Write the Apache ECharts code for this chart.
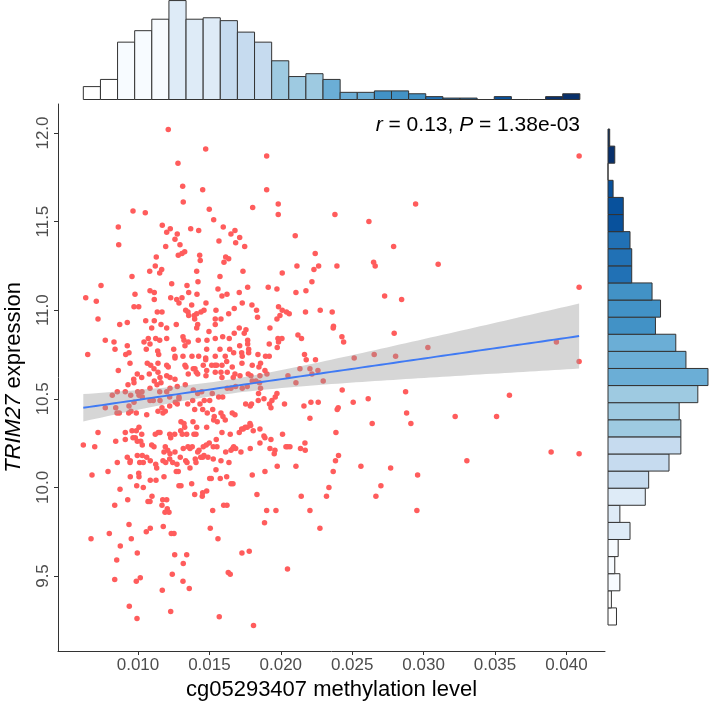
<!DOCTYPE html>
<html>
<head>
<meta charset="utf-8">
<script src="https://cdn.jsdelivr.net/npm/echarts@6/dist/echarts.min.js"></script>
<style>
html,body{margin:0;padding:0;background:#fff;}
#chart{width:709px;height:707px;}
</style>
</head>
<body>
<div id="chart"></div>
<script>
// ---------- DATA ----------
// scatter: [methylation level, TRIM27 expression]
const scatterPoints = [
[0.01212,12.02],[0.01474,11.91],[0.01901,11.87],[0.01280,11.83],[0.01313,11.70],[0.01453,11.68],[0.01901,11.68],[0.01317,11.61],[0.01803,11.58],[0.01982,11.60],[0.01982,11.54],[0.00965,11.56],[0.01051,11.55],[0.01499,11.57],[0.02379,11.54],[0.01530,11.51],[0.01170,11.48],[0.00862,11.47],[0.01597,11.47],[0.01226,11.46],[0.01201,11.44],[0.01369,11.46],[0.01425,11.45],[0.01679,11.45],[0.01651,11.43],[0.01275,11.43],[0.01712,11.41],[0.02101,11.42],[0.01259,11.40],[0.00865,11.37],[0.01294,11.37],[0.01194,11.36],[0.01567,11.39],[0.01684,11.38],[0.01747,11.36],[0.01327,11.33],[0.01308,11.32],[0.01282,11.31],[0.01432,11.31],[0.02241,11.32],[0.01128,11.30],[0.01614,11.30],[0.01635,11.29],[0.01436,11.28],[0.01602,11.27],[0.01121,11.25],[0.02113,11.25],[0.02265,11.25],[0.02393,11.25],[0.01166,11.23],[0.01152,11.21],[0.01082,11.22],[0.01411,11.22],[0.01735,11.22],[0.02010,11.21],[0.02232,11.23],[0.00958,11.19],[0.01574,11.19],[0.02218,11.16],[0.00741,11.14],[0.01236,11.15],[0.01420,11.16],[0.01084,11.11],[0.01114,11.10],[0.01343,11.14],[0.01560,11.12],[0.01768,11.13],[0.01912,11.13],[0.01973,11.12],[0.02176,11.11],[0.02106,11.10],[0.00979,11.09],[0.01355,11.10],[0.01413,11.09],[0.01588,11.08],[0.01623,11.09],[0.01709,11.10],[0.00634,11.07],[0.00708,11.05],[0.01114,11.06],[0.01229,11.07],[0.01271,11.06],[0.01308,11.07],[0.01287,11.04],[0.00972,11.02],[0.01005,11.02],[0.01376,11.03],[0.01476,11.04],[0.01730,11.04],[0.01135,10.99],[0.01168,10.99],[0.01334,11.00],[0.01350,10.99],[0.01355,10.97],[0.01394,10.97],[0.01411,10.98],[0.01441,10.99],[0.01462,11.00],[0.01546,11.00],[0.01635,10.98],[0.01674,11.01],[0.01798,11.03],[0.01830,11.00],[0.01837,10.96],[0.01984,11.02],[0.02010,11.00],[0.02040,10.99],[0.02059,10.98],[0.02173,10.99],[0.02276,11.00],[0.02360,10.99],[0.02369,10.91],[0.02367,10.90],[0.00720,10.95],[0.00872,10.92],[0.00925,10.93],[0.01054,10.94],[0.01114,10.94],[0.01161,10.92],[0.01096,10.90],[0.01201,10.90],[0.01268,10.92],[0.01397,10.95],[0.01411,10.90],[0.01418,10.92],[0.01497,10.88],[0.01541,10.95],[0.01541,10.92],[0.01581,10.95],[0.01709,10.90],[0.01744,10.87],[0.01756,10.89],[0.01924,10.90],[0.01973,10.95],[0.01994,10.97],[0.02120,10.86],[0.02145,10.84],[0.00771,10.83],[0.00832,10.82],[0.01042,10.82],[0.01072,10.84],[0.01124,10.84],[0.01152,10.83],[0.01201,10.84],[0.01315,10.85],[0.01322,10.83],[0.01352,10.82],[0.01422,10.83],[0.01483,10.83],[0.01541,10.84],[0.01593,10.85],[0.01639,10.84],[0.01674,10.87],[0.01768,10.83],[0.01768,10.81],[0.01980,10.84],[0.02008,10.84],[0.01984,10.82],[0.00839,10.78],[0.00925,10.80],[0.01058,10.78],[0.01084,10.81],[0.01250,10.78],[0.01329,10.80],[0.01481,10.78],[0.01574,10.78],[0.01642,10.78],[0.01712,10.80],[0.01775,10.78],[0.01919,10.81],[0.01975,10.79],
[0.00648,10.75],[0.00914,10.75],[0.00937,10.76],[0.01138,10.77],[0.01145,10.75],[0.01259,10.74],[0.01259,10.73],[0.01315,10.74],[0.01378,10.74],[0.01425,10.74],[0.01474,10.73],[0.01541,10.74],[0.01611,10.74],[0.01670,10.76],[0.01726,10.76],[0.01730,10.74],[0.01775,10.76],[0.01840,10.75],[0.01893,10.74],[0.01919,10.74],[0.02166,10.75],[0.02178,10.72],[0.02243,10.72],
[0.00944,10.70],[0.01065,10.70],[0.01089,10.69],[0.01140,10.70],[0.01201,10.69],[0.01212,10.68],[0.01329,10.69],[0.01336,10.68],[0.01387,10.67],[0.01408,10.65],[0.01418,10.64],[0.01457,10.69],[0.01474,10.72],[0.01516,10.69],[0.01539,10.69],[0.01551,10.69],[0.01588,10.69],[0.01621,10.71],[0.01660,10.68],[0.01728,10.70],[0.01800,10.69],[0.01858,10.70],[0.01847,10.68],
[0.00862,10.66],[0.00995,10.64],[0.01026,10.62],[0.01079,10.64],[0.01140,10.65],[0.01112,10.67],[0.01201,10.63],[0.01224,10.62],[0.01154,10.62],[0.01259,10.61],[0.01352,10.64],[0.01399,10.67],[0.01481,10.66],[0.01476,10.63],[0.01541,10.65],[0.01581,10.65],[0.01588,10.62],[0.01625,10.65],[0.01679,10.64],[0.01667,10.62],[0.01714,10.63],[0.01772,10.64],[0.01791,10.63],[0.01854,10.63],[0.01889,10.66],[0.01903,10.64],[0.02050,10.63],[0.02106,10.59],[0.02134,10.67],[0.02204,10.67],[0.02218,10.64],[0.02260,10.66],[0.02297,10.60],
[0.00970,10.61],[0.00930,10.58],[0.00972,10.59],[0.00998,10.54],[0.00949,10.52],[0.00911,10.54],[0.00855,10.54],[0.00820,10.52],[0.00771,10.45],[0.00844,10.45],[0.00869,10.42],[0.00937,10.46],[0.00972,10.48],[0.01028,10.54],[0.01084,10.56],[0.01114,10.60],[0.01133,10.58],[0.01161,10.59],[0.01152,10.54],[0.01201,10.54],[0.01224,10.56],[0.01275,10.57],[0.01331,10.58],[0.01387,10.55],[0.01418,10.53],[0.01287,10.51],[0.01261,10.48],[0.01275,10.47],[0.01222,10.51],[0.01154,10.49],[0.01107,10.49],[0.01084,10.49],[0.01030,10.51],[0.01007,10.52],[0.00935,10.42],[0.00951,10.43],[0.01061,10.41],[0.01140,10.43],[0.01168,10.45],[0.01222,10.46],[0.01175,10.42],[0.01191,10.43],[0.01287,10.50],[0.01348,10.47],[0.01383,10.49],[0.01446,10.54],[0.01464,10.49],[0.01502,10.49],[0.01520,10.53],[0.01565,10.51],[0.01593,10.51],[0.01625,10.56],[0.01651,10.56],[0.01684,10.57],[0.01730,10.56],[0.01765,10.57],[0.01800,10.60],[0.01826,10.60],[0.01851,10.59],[0.01858,10.56],[0.01844,10.53],[0.01882,10.50],[0.01938,10.49],[0.01961,10.51],[0.01973,10.53],[0.01921,10.47],[0.02026,10.47],[0.02162,10.46],[0.02211,10.48],[0.02262,10.48],[0.02395,10.44],
[0.00853,10.42],[0.00988,10.42],[0.01397,10.44],[0.01434,10.47],[0.01453,10.44],[0.01485,10.42],[0.01523,10.44],[0.01534,10.40],[0.01581,10.42],[0.01595,10.40],[0.01530,10.38],[0.01555,10.37],[0.01611,10.38],[0.01660,10.42],[0.01679,10.41],[0.01754,10.47],[0.01795,10.47],[0.01786,10.46],[0.01842,10.49],[0.01931,10.45],[0.02204,10.39],[0.02402,10.45],
[0.01301,10.37],[0.01322,10.36],[0.01327,10.34],[0.01299,10.32],[0.01385,10.37],[0.01411,10.34],[0.01406,10.30],[0.01392,10.30],[0.00911,10.31],[0.00958,10.32],[0.00988,10.32],[0.01007,10.34],[0.01026,10.30],[0.00981,10.28],[0.00965,10.28],[0.00995,10.26],[0.01019,10.26],[0.01030,10.24],[0.00911,10.27],[0.00844,10.26],[0.00720,10.31],[0.00617,10.24],[0.00697,10.23],[0.01121,10.30],[0.01142,10.31],[0.01154,10.31],[0.01222,10.30],[0.01229,10.28],[0.01257,10.30],[0.01310,10.30],[0.01341,10.30],[0.01481,10.34],[0.01588,10.31],[0.01646,10.30],[0.01709,10.31],[0.01726,10.33],[0.01737,10.33],[0.01751,10.34],[0.01765,10.34],[0.01784,10.36],[0.01789,10.35],[0.01807,10.32],[0.01854,10.33],[0.01882,10.29],[0.01889,10.28],[0.01931,10.27],[0.02012,10.30],[0.02047,10.23],[0.02064,10.23],[0.02036,10.23],[0.02138,10.22],[0.02169,10.25],[0.02171,10.21],[0.02386,10.31],[0.02404,10.18],[0.02383,10.15],
[0.01548,10.27],[0.01499,10.25],[0.01478,10.24],[0.01457,10.23],[0.01427,10.21],[0.01418,10.20],[0.01462,10.18],[0.01453,10.17],[0.01439,10.17],[0.01364,10.22],[0.01350,10.23],[0.01317,10.22],[0.01380,10.23],[0.01401,10.16],[0.01334,10.15],[0.01343,10.14],[0.01296,10.17],[0.01259,10.20],[0.01224,10.19],[0.01208,10.21],[0.01191,10.23],[0.01112,10.23],[0.01182,10.20],[0.01096,10.24],[0.01030,10.18],[0.01061,10.17],[0.00995,10.18],[0.00925,10.17],[0.00946,10.15],[0.00855,10.14],[0.01012,10.14],[0.00944,10.14],[0.01037,10.14],[0.01124,10.13],[0.01131,10.11],[0.01086,10.15],[0.01175,10.15],[0.01194,10.14],[0.01222,10.16],[0.01243,10.14],[0.01273,10.13],[0.01268,10.09],[0.01282,10.09],[0.01364,10.11],[0.01406,10.14],[0.01490,10.17],[0.01527,10.16],[0.01581,10.15],[0.01527,10.23],[0.01553,10.23],[0.01614,10.20],[0.01651,10.21],[0.01663,10.22],[0.01670,10.23],[0.01684,10.22],[0.01637,10.14],[0.01721,10.20],[0.01786,10.22],[0.01854,10.25],[0.01924,10.22],[0.01959,10.21],[0.01954,10.19],[0.02106,10.12],[0.01975,10.12],[0.01889,10.09],[0.01800,10.07],[0.02367,10.09],[0.00790,10.09],[0.00678,10.07],[0.00946,10.06],[0.01005,10.08],[0.01007,10.06],[0.01086,10.04],[0.01126,10.04],[0.01182,10.06],[0.01037,10.00],[0.00991,10.01],[0.00874,9.99],[0.00837,9.90],[0.00928,9.93],[0.01070,9.92],[0.01084,9.92],[0.01098,9.95],[0.01168,9.90],[0.01173,9.93],[0.01201,9.93],[0.01205,9.88],[0.01189,9.86],[0.01217,9.86],[0.01287,10.01],[0.01301,10.01],[0.01376,10.02],[0.01397,9.96],[0.01450,9.95],[0.01481,9.98],[0.01502,10.05],[0.01513,10.05],[0.01546,10.10],[0.01576,10.05],[0.01621,10.06],[0.01651,10.02],[0.01665,10.02],[0.01833,9.96],[0.01623,9.90],[0.01600,9.90],[0.01523,9.87],[0.01453,9.97],[0.02143,9.95],[0.02204,9.87],[0.02337,10.00],[0.02320,9.95],[0.01901,9.87],[0.01966,9.87],[0.01886,9.80],[0.01506,9.77],[0.01560,9.71],[0.00937,9.79],[0.00953,9.71],[0.00799,9.74],[0.00671,9.71],[0.00876,9.67],[0.01058,9.75],[0.01086,9.77],[0.01177,9.78],[0.01233,9.74],[0.01252,9.74],[0.02274,9.77],[0.01257,9.62],[0.01341,9.62],[0.01317,9.57],[0.00995,9.63],[0.00851,9.59],[0.01728,9.63],[0.01779,9.64],[0.02047,9.54],[0.00837,9.48],[0.00988,9.47],[0.01016,9.49],[0.01170,9.42],[0.01240,9.51],[0.01315,9.47],[0.01359,9.43],[0.01632,9.52],[0.01646,9.51],[0.00939,9.33],[0.01229,9.30],[0.00993,9.26],[0.01569,9.27],[0.01809,9.22],
[0.04089,11.87],[0.02944,11.60],[0.02617,11.50],[0.02790,11.36],[0.02650,11.27],[0.02661,11.25],[0.03102,11.26],[0.02727,11.08],[0.02846,11.06],[0.02428,10.85],[0.02440,10.82],[0.02794,10.87],[0.04089,11.13],[0.03030,10.79],[0.02654,10.75],[0.02804,10.74],[0.02514,10.73],[0.03930,10.82],[0.04089,10.71],[0.02430,10.55],[0.02874,10.54],[0.03601,10.52],[0.02612,10.50],[0.02507,10.48],[0.02881,10.42],[0.03221,10.40],[0.03511,10.40],[0.02640,10.36],[0.02911,10.36],
[0.02561,10.12],[0.02769,10.11],[0.02701,10.01],[0.02666,9.95],[0.02958,10.07],[0.02953,9.87],[0.03303,10.15],[0.03893,10.20],[0.04089,10.19]
];

// top marginal histogram (methylation), bins left -> right
const methylBinStart = 0.006171;
const methylBinWidth = 0.0011990;
const methylCounts = [9,14,40,48,56,69,56,57,55,47,40,27,16,18,14,5,5,6,6,4,2,1,1,0,2,0,0,2,4];

// right marginal histogram (expression), bins bottom -> top
const exprBinStart = 9.2235;
const exprBinWidth = 0.09652;
const exprCounts = [5,2,7,4,6,13,7,22,24,36,43,43,42,53,59,46,40,28,31,26,14,14,13,9,9,3,0,4,1];

const xTicks = [0.010,0.015,0.020,0.025,0.030,0.035,0.040];
const yTicks = [9.5,10.0,10.5,11.0,11.5,12.0];
const statLabel = {r: '0.13', P: '1.38e-03'};

// ---------- derived ----------
const blues = ['#FFFFFF','#F7FBFF','#DEEBF7','#C6DBEF','#9ECAE1','#6BAED6','#4292C6','#2171B5','#08519C','#08306B'];
function binColor(i){ return blues[Math.min(9, Math.floor((i+1)/3))]; }

const methylBins = methylCounts.map((c,i)=>[methylBinStart+i*methylBinWidth, methylBinStart+(i+1)*methylBinWidth, c, i]);
const exprBins = exprCounts.map((c,i)=>[exprBinStart+i*exprBinWidth, exprBinStart+(i+1)*exprBinWidth, c, i]);

// linear fit with 95% confidence band (as geom_smooth(method='lm'))
const n = scatterPoints.length;
let mx=0,my=0; scatterPoints.forEach(p=>{mx+=p[0];my+=p[1];}); mx/=n; my/=n;
let sxx=0,sxy=0; scatterPoints.forEach(p=>{sxx+=(p[0]-mx)*(p[0]-mx); sxy+=(p[0]-mx)*(p[1]-my);});
const slope = sxy/sxx, intercept = my - slope*mx;
let sse=0; scatterPoints.forEach(p=>{const r=p[1]-(intercept+slope*p[0]); sse+=r*r;});
const sres = Math.sqrt(sse/(n-2)), tq = 1.9639;
const xs = scatterPoints.map(p=>p[0]);
const xmin = Math.min(...xs), xmax = Math.max(...xs);
const fitLine=[], bandUpper=[], bandLower=[];
for(let k=0;k<=80;k++){
  const x = xmin + (xmax-xmin)*k/80;
  const yh = intercept + slope*x;
  const se = sres*Math.sqrt(1/n + (x-mx)*(x-mx)/sxx);
  fitLine.push([x,yh]); bandUpper.push([x,yh+tq*se]); bandLower.push([x,yh-tq*se]);
}

const FONT = 'Liberation Sans, Arial, Helvetica, sans-serif';
const chart = echarts.init(document.getElementById('chart'), null, {renderer:'canvas'});

const option = {
  backgroundColor:'#ffffff',
  animation:false,
  grid:[
    {left:58, top:104, width:547, height:547, containLabel:false, outerBoundsMode:'none'},
    {left:58, top:0, width:547, height:99.5, containLabel:false, outerBoundsMode:'none'},
    {left:608, top:104, width:101, height:547, containLabel:false, outerBoundsMode:'none'}
  ],
  xAxis:[
    {gridIndex:0, type:'value', min:0.004398, max:0.042703,
     name:'cg05293407 methylation level', nameLocation:'middle', nameGap:27,
     nameTextStyle:{fontFamily:FONT, fontSize:22, color:'#000'},
     axisLine:{show:true, onZero:false, lineStyle:{color:'#333', width:1}},
     axisTick:{show:true, length:4, customValues:xTicks, lineStyle:{color:'#333'}},
     axisLabel:{customValues:xTicks, formatter:v=>v.toFixed(3), fontFamily:FONT, fontSize:17, color:'#4D4D4D', margin:6},
     splitLine:{show:false}},
    {gridIndex:1, type:'value', min:0.004398, max:0.042703, show:false},
    {gridIndex:2, type:'value', min:0, max:59.6, show:false}
  ],
  yAxis:[
    {gridIndex:0, type:'value', min:9.0768, max:12.1637,
     name:'{i|TRIM27} expression', nameLocation:'middle', nameGap:33,
     nameTextStyle:{fontFamily:FONT, fontSize:22, color:'#000', rich:{i:{fontFamily:FONT, fontSize:22, fontStyle:'italic', color:'#000'}}},
     axisLine:{show:true, onZero:false, lineStyle:{color:'#333', width:1}},
     axisTick:{show:true, length:4, customValues:yTicks, lineStyle:{color:'#333'}},
     axisLabel:{customValues:yTicks, formatter:v=>v.toFixed(1), rotate:90, fontFamily:FONT, fontSize:17, color:'#4D4D4D', margin:6},
     splitLine:{show:false}},
    {gridIndex:1, type:'value', min:0, max:69.4, show:false},
    {gridIndex:2, type:'value', min:9.0768, max:12.1637, show:false}
  ],
  series:[
    {type:'scatter', xAxisIndex:0, yAxisIndex:0, data:scatterPoints, symbolSize:5.5,
     itemStyle:{color:'#FF5C5C', opacity:1}, z:2},
    {type:'custom', xAxisIndex:0, yAxisIndex:0, data:[[0]], z:3, silent:true,
     renderItem:function(params, api){
       const pts = bandUpper.map(p=>api.coord(p)).concat(bandLower.slice().reverse().map(p=>api.coord(p)));
       return {type:'polygon', shape:{points:pts}, style:{fill:'rgba(153,153,153,0.4)'}};
     }},
    {type:'line', xAxisIndex:0, yAxisIndex:0, data:fitLine, showSymbol:false, z:4,
     lineStyle:{color:'#3F7AF4', width:1.9}},
    {type:'custom', xAxisIndex:1, yAxisIndex:1, data:methylBins, encode:{x:[0,1], y:2},
     renderItem:function(params, api){
       const p0 = api.coord([api.value(0), 0]);
       const p1 = api.coord([api.value(1), api.value(2)]);
       return {type:'rect', shape:{x:p0[0], y:p1[1], width:p1[0]-p0[0], height:p0[1]-p1[1]},
               style:{fill:binColor(api.value(3)), stroke:'#333333', lineWidth:1}};
     }},
    {type:'custom', xAxisIndex:2, yAxisIndex:2, data:exprBins, encode:{y:[0,1], x:2},
     renderItem:function(params, api){
       const p0 = api.coord([0, api.value(0)]);
       const p1 = api.coord([api.value(2), api.value(1)]);
       return {type:'rect', shape:{x:p0[0], y:p1[1], width:p1[0]-p0[0], height:p0[1]-p1[1]},
               style:{fill:binColor(api.value(3)), stroke:'#333333', lineWidth:1}};
     }}
  ],
  graphic:[
    {type:'text', right:129, top:115, z:10,
     style:{text:'{i|r} = '+statLabel.r+', {i|P} = '+statLabel.P,
            font:'21px '+FONT, fill:'#000',
            rich:{i:{fontStyle:'italic', fontSize:21, fontFamily:FONT, fill:'#000'}}}}
  ]
};
chart.setOption(option);
</script>
</body>
</html>
